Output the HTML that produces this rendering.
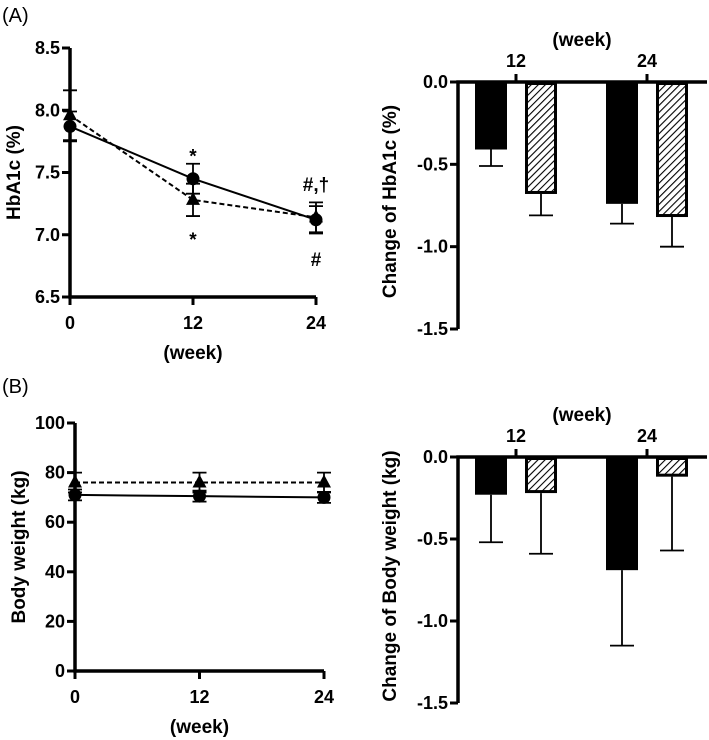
<!DOCTYPE html>
<html><head><meta charset="utf-8">
<style>
html,body{margin:0;padding:0;background:#fff;}
svg{display:block;font-family:"Liberation Sans",Arial,sans-serif;}
.tk{font-weight:bold;font-size:18px;}
.ttl{font-weight:bold;font-size:19px;}
.pl{font-size:20px;}
</style></head>
<body>
<svg id="fig" width="709" height="740" viewBox="0 0 709 740">
<defs>
<pattern id="hatch" patternUnits="userSpaceOnUse" width="5" height="5" patternTransform="rotate(45)">
<rect width="5" height="5" fill="#fff"/><line x1="0" y1="0" x2="0" y2="5" stroke="#000" stroke-width="2.2"/>
</pattern>
</defs>
<text x="2" y="22" class="pl">(A)</text>
<text x="2" y="393" class="pl">(B)</text>
</svg>
<script>
// Panel A line chart: HbA1c
const weeks = [0, 12, 24];
const hbaCircle = [7.87, 7.45, 7.12];
const hbaCircleErr = [0.12, 0.12, 0.11];
const hbaTri = [7.96, 7.28, 7.14];
const hbaTriErr = [0.2, 0.13, 0.12];
const hbaTicks = [6.5, 7.0, 7.5, 8.0, 8.5];
// Panel A bars: change of HbA1c
const barCats = ["12", "24"];
const dHbaBlack = [-0.41, -0.74];
const dHbaBlackErr = [0.10, 0.12];
const dHbaHatch = [-0.68, -0.82];
const dHbaHatchErr = [0.13, 0.18];
const changeTicks = [0.0, -0.5, -1.0, -1.5];
// Panel B line chart: body weight
const bwCircle = [71, 70.5, 70];
const bwCircleErr = [2.2, 2.2, 2.2];
const bwTri = [76, 76, 76];
const bwTriErr = [4, 4, 4];
const bwTicks = [0, 20, 40, 60, 80, 100];
// Panel B bars: change of body weight
const dBwBlack = [-0.23, -0.69];
const dBwBlackErr = [0.29, 0.46];
const dBwHatch = [-0.22, -0.12];
const dBwHatchErr = [0.37, 0.45];

const NS = "http://www.w3.org/2000/svg";
const svg = document.getElementById("fig");
function el(tag, attrs, parent, text) {
  const e = document.createElementNS(NS, tag);
  for (const k in attrs) e.setAttribute(k, attrs[k]);
  if (text !== undefined) e.textContent = text;
  (parent || svg).appendChild(e);
  return e;
}
function lin(d0, d1, r0, r1) { return v => r0 + (v - d0) * (r1 - r0) / (d1 - d0); }

function lineChart(o) {
  const g = el("g", {});
  
  
  const x = lin(0, 24, o.x0, o.x1), y = lin(o.ymin, o.ymax, o.y0, o.y1);
  const ax = el("path", {d: `M${o.x0} ${o.y1}V${o.y0}H${o.x1}`, stroke: "#000", "stroke-width": 3.5, fill: "none"}, g);
  
  
  o.ticks.forEach(t => {
    el("line", {x1: o.x0 - 8, x2: o.x0, y1: y(t), y2: y(t), stroke: "#000", "stroke-width": 3}, g);
    const tl = el("text", {x: o.x0 - 10, y: y(t) + 6, "text-anchor": "end", class: "tk"}, g, o.fmt(t));
    
    
  });
  weeks.forEach(w => {
    el("line", {x1: x(w), x2: x(w), y1: o.y0, y2: o.y0 + 8, stroke: "#000", "stroke-width": 3}, g);
    const tl = el("text", {x: x(w), y: o.y0 + 32, "text-anchor": "middle", class: "tk"}, g, String(w));
    
    
  });
  const xt = el("text", {x: (o.x0 + o.x1) / 2, y: o.y0 + 62, "text-anchor": "middle", class: "ttl"}, g, "(week)");
  
  
  const cy = (o.y0 + o.y1) / 2;
  const yt = el("text", {x: 0, y: 0, "text-anchor": "middle", class: "ttl", transform: `translate(${o.x0 - 50},${cy}) rotate(-90)`}, g, o.ytitle);
  
  
  function series(vals, errs, dash, marker, nm) {
    const sg = el("g", {}, g);
    
    
    el("polyline", {points: vals.map((v, i) => `${x(weeks[i])},${y(v)}`).join(" "), fill: "none", stroke: "#000", "stroke-width": 2, "stroke-dasharray": dash}, sg);
    vals.forEach((v, i) => {
      const px = x(weeks[i]), hi = y(v + errs[i]), lo = y(v - errs[i]);
      el("path", {d: `M${px} ${hi}V${lo}M${px - 7} ${hi}H${px + 7}M${px - 7} ${lo}H${px + 7}`, stroke: "#000", "stroke-width": 1.8, fill: "none"}, sg);
      let m;
      if (marker === "c") m = el("circle", {cx: px, cy: y(v), r: 6.5, fill: "#000"}, sg);
      else m = el("path", {d: `M${px} ${y(v) - 8}L${px + 7} ${y(v) + 5}L${px - 7} ${y(v) + 5}Z`, fill: "#000"}, sg);
      
      
    });
  }
  series(o.tri, o.triErr, "5 3", "t", "series-triangle-dashed");
  series(o.circ, o.circErr, "", "c", "series-circle-solid");
  (o.marks || []).forEach(mk => {
    const t = el("text", {x: x(mk[0]), y: y(mk[1]), "text-anchor": "middle", class: "ttl"}, g, mk[2]);
    
    
  });
}

function barChart(o) {
  const g = el("g", {});
  
  
  const y = lin(0, -1.5, o.y0, o.y1);
  const catX = [516, 647];
  el("path", {d: `M${o.x0} ${o.y1}V${o.y0}H707`, stroke: "#000", "stroke-width": 3.5, fill: "none"}, g);
  changeTicks.forEach(t => {
    el("line", {x1: o.x0 - 8, x2: o.x0, y1: y(t), y2: y(t), stroke: "#000", "stroke-width": 3}, g);
    const tl = el("text", {x: o.x0 - 10, y: y(t) + 6, "text-anchor": "end", class: "tk"}, g, t.toFixed(1));
    
    
  });
  barCats.forEach((c, i) => {
    el("line", {x1: catX[i], x2: catX[i], y1: o.y0, y2: o.y0 - 8, stroke: "#000", "stroke-width": 3}, g);
    const tl = el("text", {x: catX[i], y: o.y0 - 15, "text-anchor": "middle", class: "tk"}, g, c);
    
    
    const bw = 32;
    [[o.black, o.blackErr, catX[i] - 41, "#000", "bar-black-" + c], [o.hatch, o.hatchErr, catX[i] + 9, "url(#hatch)", "bar-hatched-" + c]].forEach(s => {
      const v = s[0][i], e = s[1][i], bx = s[2];
      const cx = bx + bw / 2;
      el("path", {d: `M${cx} ${y(v)}V${y(v - e)}M${cx - 12} ${y(v - e)}H${cx + 12}`, stroke: "#000", "stroke-width": 1.8, fill: "none"}, g);
      const r = el("rect", {x: bx + 1.5, y: o.y0 + 1.5, width: bw - 3, height: Math.max(0, y(v) - o.y0 - 3), fill: s[3], stroke: "#000", "stroke-width": 3}, g);
      
      
    });
  });
  const xt = el("text", {x: 582, y: o.y0 - 36, "text-anchor": "middle", class: "ttl"}, g, "(week)");
  
  
  const yt = el("text", {x: 0, y: 0, "text-anchor": "middle", class: "ttl", transform: `translate(${o.x0 - 62},${(o.y0 + o.y1) / 2 - 4}) rotate(-90)`}, g, o.ytitle);
  
  
}

lineChart({name: "hba1c-line-chart", x0: 70, x1: 316, y0: 297, y1: 48, ymin: 6.5, ymax: 8.5, ticks: hbaTicks, fmt: t => t.toFixed(1), ytitle: "HbA1c (%)",
  circ: hbaCircle, circErr: hbaCircleErr, tri: hbaTri, triErr: hbaTriErr,
  marks: [[12, 7.58, "*"], [12, 6.91, "*"], [24, 7.35, "#,†"], [24, 6.75, "#"]]});
barChart({name: "hba1c-change-bar-chart", x0: 458, y0: 82, y1: 329, ytitle: "Change of HbA1c (%)",
  black: dHbaBlack, blackErr: dHbaBlackErr, hatch: dHbaHatch, hatchErr: dHbaHatchErr});
lineChart({name: "body-weight-line-chart", x0: 75, x1: 324, y0: 671, y1: 423, ymin: 0, ymax: 100, ticks: bwTicks, fmt: t => String(t), ytitle: "Body weight (kg)",
  circ: bwCircle, circErr: bwCircleErr, tri: bwTri, triErr: bwTriErr});
barChart({name: "body-weight-change-bar-chart", x0: 458, y0: 457, y1: 703, ytitle: "Change of Body weight (kg)",
  black: dBwBlack, blackErr: dBwBlackErr, hatch: dBwHatch, hatchErr: dBwHatchErr});
</script>
</body></html>
